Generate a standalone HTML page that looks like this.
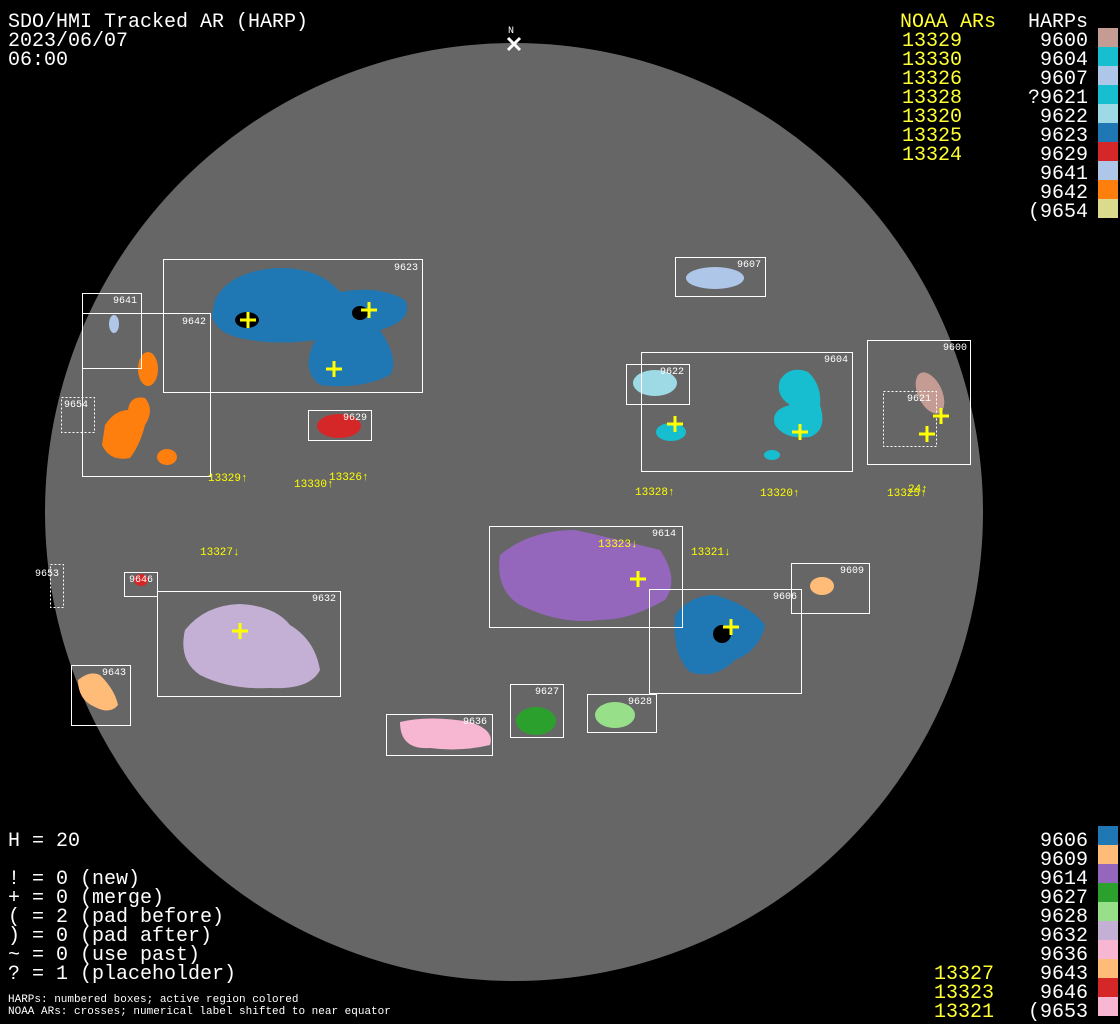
<!DOCTYPE html>
<html><head><meta charset="utf-8"><style>
html,body{margin:0;padding:0;background:#000;width:1120px;height:1024px;overflow:hidden}
svg{display:block}
text{font-family:"Liberation Mono","DejaVu Sans Mono",monospace}
.t{fill:#fff;font-size:20px}
.y{fill:#ffff33;font-size:20px}
.s{fill:#fff;font-size:10px}
.ys{fill:#ffff00;font-size:11px}
.b{fill:none;stroke:#fff;stroke-width:1}
.d{fill:none;stroke:#fff;stroke-width:1;stroke-dasharray:2 2}
.x{stroke:#ffff00;stroke-width:3}
</style></head><body>
<svg width="1120" height="1024" viewBox="0 0 1120 1024">
<rect width="1120" height="1024" fill="#000"/>
<circle cx="514" cy="512" r="469" fill="#666"/>
<!-- N marker -->
<path d="M508 38 L520 50 M520 38 L508 50" stroke="#fff" stroke-width="3"/>
<text x="508" y="33" class="s">N</text>

<!-- regions -->
<path d="M215 300 Q230 270 280 268 Q320 268 340 292 Q380 285 405 300 Q415 320 380 330 Q400 360 390 375 Q360 390 320 385 Q300 370 315 340 Q280 345 250 340 Q215 335 212 315 Z" fill="#1f77b4"/>
<ellipse cx="114" cy="324" rx="5" ry="9" fill="#aec7e8"/>
<ellipse cx="148" cy="369" rx="10" ry="17" fill="#ff7f0e"/>
<path d="M105 425 Q115 410 128 410 Q130 395 145 398 Q155 410 145 425 Q140 445 130 458 Q110 462 102 445 Z" fill="#ff7f0e"/>
<ellipse cx="167" cy="457" rx="10" ry="8" fill="#ff7f0e"/>
<ellipse cx="339" cy="426" rx="22" ry="12" fill="#d62728"/>
<ellipse cx="715" cy="278" rx="29" ry="11" fill="#aec7e8"/>
<ellipse cx="655" cy="383" rx="22" ry="13" fill="#9edae5"/>
<path d="M780 380 Q790 365 808 372 Q822 385 820 405 Q828 430 810 437 Q785 440 775 425 Q770 410 790 405 Q775 395 780 380 Z" fill="#17becf"/>
<ellipse cx="671" cy="432" rx="15" ry="9" fill="#17becf"/>
<ellipse cx="772" cy="455" rx="8" ry="5" fill="#17becf"/>
<ellipse cx="930" cy="393" rx="12" ry="22" transform="rotate(-25 930 393)" fill="#c49c94"/>
<path d="M500 555 Q530 530 575 530 Q620 540 660 550 Q680 580 665 600 Q630 620 600 620 Q560 625 520 605 Q495 590 500 555 Z" fill="#9467bd"/>
<path d="M675 615 Q690 595 715 595 Q750 605 765 625 Q760 650 735 660 Q715 680 690 672 Q672 655 675 615 Z" fill="#1f77b4"/>
<ellipse cx="822" cy="586" rx="12" ry="9" fill="#ffbb78"/>
<path d="M185 630 Q205 605 240 604 Q275 606 290 625 Q315 640 320 670 Q310 690 270 688 Q230 690 200 675 Q178 660 185 630 Z" fill="#c5b0d5"/>
<path d="M78 680 Q90 670 100 675 Q115 690 118 705 Q110 715 95 707 Q78 700 78 680 Z" fill="#ffbb78"/>
<ellipse cx="141" cy="580" rx="7" ry="6" fill="#d62728"/>
<path d="M400 722 Q430 715 470 722 Q495 730 490 745 Q460 752 430 748 Q400 750 400 722 Z" fill="#f7b6d2"/>
<ellipse cx="536" cy="721" rx="20" ry="14" fill="#2ca02c"/>
<ellipse cx="615" cy="715" rx="20" ry="13" fill="#98df8a"/>
<ellipse cx="247" cy="320" rx="12" ry="8" fill="#000"/>
<ellipse cx="360" cy="313" rx="8" ry="7" fill="#000"/>
<ellipse cx="722" cy="634" rx="9" ry="9" fill="#000"/>

<!-- boxes -->
<rect x="163.5" y="259.5" width="259" height="133" class="b"/>
<rect x="82.5" y="293.5" width="59" height="75" class="b"/>
<rect x="82.5" y="313.5" width="128" height="163" class="b"/>
<rect x="61.5" y="397.5" width="33" height="35" class="d"/>
<rect x="308.5" y="410.5" width="63" height="30" class="b"/>
<rect x="675.5" y="257.5" width="90" height="39" class="b"/>
<rect x="626.5" y="364.5" width="63" height="40" class="b"/>
<rect x="641.5" y="352.5" width="211" height="119" class="b"/>
<rect x="867.5" y="340.5" width="103" height="124" class="b"/>
<rect x="883.5" y="391.5" width="53" height="55" class="d"/>
<rect x="489.5" y="526.5" width="193" height="101" class="b"/>
<rect x="649.5" y="589.5" width="152" height="104" class="b"/>
<rect x="791.5" y="563.5" width="78" height="50" class="b"/>
<rect x="50.5" y="564.5" width="13" height="43" class="d"/>
<rect x="124.5" y="572.5" width="33" height="24" class="b"/>
<rect x="157.5" y="591.5" width="183" height="105" class="b"/>
<rect x="71.5" y="665.5" width="59" height="60" class="b"/>
<rect x="386.5" y="714.5" width="106" height="41" class="b"/>
<rect x="510.5" y="684.5" width="53" height="53" class="b"/>
<rect x="587.5" y="694.5" width="69" height="38" class="b"/>

<!-- box labels -->
<text x="394" y="270" class="s">9623</text>
<text x="113" y="303" class="s">9641</text>
<text x="182" y="324" class="s">9642</text>
<text x="64" y="407" class="s">9654</text>
<text x="343" y="420" class="s">9629</text>
<text x="737" y="267" class="s">9607</text>
<text x="660" y="374" class="s">9622</text>
<text x="824" y="362" class="s">9604</text>
<text x="943" y="350" class="s">9600</text>
<text x="907" y="401" class="s">9621</text>
<text x="652" y="536" class="s">9614</text>
<text x="773" y="599" class="s">9606</text>
<text x="840" y="573" class="s">9609</text>
<text x="35" y="576" class="s">9653</text>
<text x="129" y="582" class="s">9646</text>
<text x="312" y="601" class="s">9632</text>
<text x="102" y="675" class="s">9643</text>
<text x="463" y="724" class="s">9636</text>
<text x="535" y="694" class="s">9627</text>
<text x="628" y="704" class="s">9628</text>

<!-- crosses -->
<g class="x">
<path d="M240 320h16M248 312v16"/>
<path d="M361 310h16M369 302v16"/>
<path d="M326 369h16M334 361v16"/>
<path d="M667 424h16M675 416v16"/>
<path d="M792 432h16M800 424v16"/>
<path d="M933 416h16M941 408v16"/>
<path d="M919 434h16M927 426v16"/>
<path d="M630 579h16M638 571v16"/>
<path d="M723 627h16M731 619v16"/>
<path d="M232 631h16M240 623v16"/>
</g>

<!-- NOAA labels -->
<text x="208" y="481" class="ys">13329↑</text>
<text x="294" y="487" class="ys">13330↑</text>
<text x="329" y="480" class="ys">13326↑</text>
<text x="635" y="495" class="ys">13328↑</text>
<text x="760" y="496" class="ys">13320↑</text>
<text x="887" y="496" class="ys">13325↑</text>
<text x="908" y="492" class="ys">24↑</text>
<text x="200" y="555" class="ys">13327↓</text>
<text x="598" y="547" class="ys">13323↓</text>
<text x="691" y="555" class="ys">13321↓</text>

<!-- header text -->
<text x="8" y="27" class="t">SDO/HMI Tracked AR (HARP)</text>
<text x="8" y="46" class="t">2023/06/07</text>
<text x="8" y="65" class="t">06:00</text>

<text x="900" y="27" class="y">NOAA ARs</text>
<text x="1028" y="27" class="t">HARPs</text>
<g class="y">
<text x="902" y="46">13329</text><text x="902" y="65">13330</text><text x="902" y="84">13326</text>
<text x="902" y="103">13328</text><text x="902" y="122">13320</text><text x="902" y="141">13325</text>
<text x="902" y="160">13324</text>
</g>
<g class="t" text-anchor="end">
<text x="1088" y="46">9600</text><text x="1088" y="65">9604</text><text x="1088" y="84">9607</text>
<text x="1088" y="103">?9621</text><text x="1088" y="122">9622</text><text x="1088" y="141">9623</text>
<text x="1088" y="160">9629</text><text x="1088" y="179">9641</text><text x="1088" y="198">9642</text>
<text x="1088" y="217">(9654</text>
</g>
<rect x="1098" y="28" width="20" height="19" fill="#c49c94"/>
<rect x="1098" y="47" width="20" height="19" fill="#17becf"/>
<rect x="1098" y="66" width="20" height="19" fill="#aec7e8"/>
<rect x="1098" y="85" width="20" height="19" fill="#17becf"/>
<rect x="1098" y="104" width="20" height="19" fill="#9edae5"/>
<rect x="1098" y="123" width="20" height="19" fill="#1f77b4"/>
<rect x="1098" y="142" width="20" height="19" fill="#d62728"/>
<rect x="1098" y="161" width="20" height="19" fill="#aec7e8"/>
<rect x="1098" y="180" width="20" height="19" fill="#ff7f0e"/>
<rect x="1098" y="199" width="20" height="19" fill="#dbdb8d"/>

<!-- bottom left -->
<text x="8" y="846" class="t">H = 20</text>
<text x="8" y="884" class="t">! = 0 (new)</text>
<text x="8" y="903" class="t">+ = 0 (merge)</text>
<text x="8" y="922" class="t">( = 2 (pad before)</text>
<text x="8" y="941" class="t">) = 0 (pad after)</text>
<text x="8" y="960" class="t">~ = 0 (use past)</text>
<text x="8" y="979" class="t">? = 1 (placeholder)</text>
<text x="8" y="1002" class="s" style="font-size:11px">HARPs: numbered boxes; active region colored</text>
<text x="8" y="1014" class="s" style="font-size:11px">NOAA ARs: crosses; numerical label shifted to near equator</text>

<!-- bottom right -->
<g class="t" text-anchor="end">
<text x="1088" y="846">9606</text><text x="1088" y="865">9609</text><text x="1088" y="884">9614</text>
<text x="1088" y="903">9627</text><text x="1088" y="922">9628</text><text x="1088" y="941">9632</text>
<text x="1088" y="960">9636</text><text x="1088" y="979">9643</text><text x="1088" y="998">9646</text>
<text x="1088" y="1017">(9653</text>
</g>
<g class="y">
<text x="934" y="979">13327</text><text x="934" y="998">13323</text><text x="934" y="1017">13321</text>
</g>
<rect x="1098" y="826" width="20" height="19" fill="#1f77b4"/>
<rect x="1098" y="845" width="20" height="19" fill="#ffbb78"/>
<rect x="1098" y="864" width="20" height="19" fill="#9467bd"/>
<rect x="1098" y="883" width="20" height="19" fill="#2ca02c"/>
<rect x="1098" y="902" width="20" height="19" fill="#98df8a"/>
<rect x="1098" y="921" width="20" height="19" fill="#c5b0d5"/>
<rect x="1098" y="940" width="20" height="19" fill="#f7b6d2"/>
<rect x="1098" y="959" width="20" height="19" fill="#ffbb78"/>
<rect x="1098" y="978" width="20" height="19" fill="#d62728"/>
<rect x="1098" y="997" width="20" height="19" fill="#f7b6d2"/>
</svg>
</body></html>
